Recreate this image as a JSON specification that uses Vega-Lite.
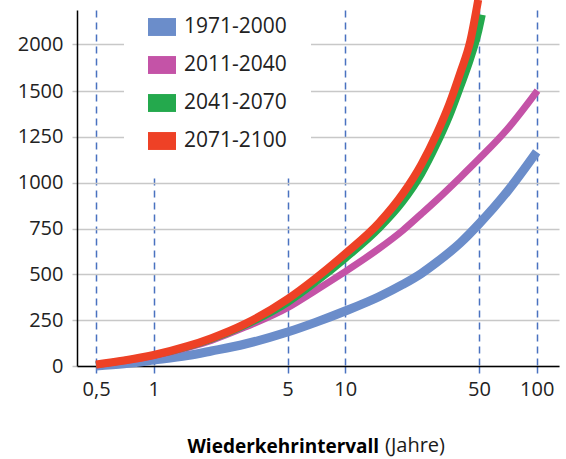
{
  "$schema": "https://vega.github.io/schema/vega-lite/v6.json",
  "width": 482,
  "height": 356,
  "autosize": {"type": "none"},
  "padding": {"left": 77, "top": 10, "right": 7, "bottom": 93},
  "background": "white",
  "title": {"text": "(Jahre)", "orient": "bottom", "anchor": "start", "frame": "group", "dx": 308, "offset": -4, "baseline": "alphabetic", "font": "Open Sans", "fontSize": 20, "fontWeight": "normal", "color": "#1a1a1a"},
  "config": {
    "view": {"stroke": null},
    "font": "Open Sans"
  },
  "data": {"values": [
    {"T": 0.5, "v": 0, "s": "1971-2000"},
    {"T": 0.7, "v": 12, "s": "1971-2000"},
    {"T": 1, "v": 32, "s": "1971-2000"},
    {"T": 1.5, "v": 57, "s": "1971-2000"},
    {"T": 2, "v": 82, "s": "1971-2000"},
    {"T": 3, "v": 120, "s": "1971-2000"},
    {"T": 5, "v": 185, "s": "1971-2000"},
    {"T": 7, "v": 238, "s": "1971-2000"},
    {"T": 10, "v": 300, "s": "1971-2000"},
    {"T": 15, "v": 378, "s": "1971-2000"},
    {"T": 20, "v": 445, "s": "1971-2000"},
    {"T": 25, "v": 505, "s": "1971-2000"},
    {"T": 30, "v": 565, "s": "1971-2000"},
    {"T": 40, "v": 672, "s": "1971-2000"},
    {"T": 50, "v": 775, "s": "1971-2000"},
    {"T": 70, "v": 950, "s": "1971-2000"},
    {"T": 100, "v": 1168, "s": "1971-2000"},
    {"T": 0.5, "v": 5, "s": "2011-2040"},
    {"T": 0.7, "v": 28, "s": "2011-2040"},
    {"T": 1, "v": 56, "s": "2011-2040"},
    {"T": 1.5, "v": 100, "s": "2011-2040"},
    {"T": 2, "v": 140, "s": "2011-2040"},
    {"T": 3, "v": 212, "s": "2011-2040"},
    {"T": 5, "v": 318, "s": "2011-2040"},
    {"T": 7, "v": 412, "s": "2011-2040"},
    {"T": 10, "v": 515, "s": "2011-2040"},
    {"T": 15, "v": 640, "s": "2011-2040"},
    {"T": 20, "v": 740, "s": "2011-2040"},
    {"T": 25, "v": 830, "s": "2011-2040"},
    {"T": 30, "v": 905, "s": "2011-2040"},
    {"T": 40, "v": 1030, "s": "2011-2040"},
    {"T": 50, "v": 1130, "s": "2011-2040"},
    {"T": 70, "v": 1290, "s": "2011-2040"},
    {"T": 101, "v": 1505, "s": "2011-2040"},
    {"T": 0.5, "v": 6, "s": "2041-2070"},
    {"T": 0.7, "v": 30, "s": "2041-2070"},
    {"T": 1, "v": 58, "s": "2041-2070"},
    {"T": 1.5, "v": 104, "s": "2041-2070"},
    {"T": 2, "v": 146, "s": "2041-2070"},
    {"T": 3, "v": 222, "s": "2041-2070"},
    {"T": 5, "v": 345, "s": "2041-2070"},
    {"T": 7, "v": 455, "s": "2041-2070"},
    {"T": 10, "v": 585, "s": "2041-2070"},
    {"T": 15, "v": 748, "s": "2041-2070"},
    {"T": 20, "v": 895, "s": "2041-2070"},
    {"T": 25, "v": 1045, "s": "2041-2070"},
    {"T": 30, "v": 1205, "s": "2041-2070"},
    {"T": 35, "v": 1360, "s": "2041-2070"},
    {"T": 40, "v": 1540, "s": "2041-2070"},
    {"T": 45, "v": 1830, "s": "2041-2070"},
    {"T": 50, "v": 2150, "s": "2041-2070"},
    {"T": 52, "v": 2310, "s": "2041-2070"},
    {"T": 0.5, "v": 8, "s": "2071-2100"},
    {"T": 0.7, "v": 30, "s": "2071-2100"},
    {"T": 1, "v": 60, "s": "2071-2100"},
    {"T": 1.5, "v": 108, "s": "2071-2100"},
    {"T": 2, "v": 152, "s": "2071-2100"},
    {"T": 3, "v": 230, "s": "2071-2100"},
    {"T": 5, "v": 365, "s": "2071-2100"},
    {"T": 7, "v": 478, "s": "2071-2100"},
    {"T": 10, "v": 612, "s": "2071-2100"},
    {"T": 15, "v": 780, "s": "2071-2100"},
    {"T": 20, "v": 940, "s": "2071-2100"},
    {"T": 25, "v": 1100, "s": "2071-2100"},
    {"T": 30, "v": 1265, "s": "2071-2100"},
    {"T": 35, "v": 1430, "s": "2071-2100"},
    {"T": 40, "v": 1700, "s": "2071-2100"},
    {"T": 45, "v": 2030, "s": "2071-2100"},
    {"T": 49.5, "v": 2470, "s": "2071-2100"}
  ]},
  "encoding": {
    "x": {
      "field": "T", "type": "quantitative",
      "scale": {"type": "log", "domain": [0.3975, 130.8], "nice": false},
      "axis": {
        "values": [0.5, 1, 5, 10, 50, 100],
        "labelExpr": "replace(format(datum.value, '~g'), '.', ',')",
        "labelFont": "Open Sans", "labelFontSize": 20, "labelColor": "#222222", "labelPadding": 6,
        "domainColor": "#000000", "domainWidth": 1.5,
        "tickColor": "#4a72c0", "tickDash": [7, 5], "tickSize": 7, "tickWidth": 1.5,
        "grid": true, "gridColor": "#4a72c0", "gridDash": [7, 5], "gridWidth": 1.5,
        "title": "Wiederkehrintervall",
        "titleFont": "Open Sans", "titleFontSize": 19, "titleFontWeight": "bold", "titleColor": "#000000",
        "titleX": 110, "titleY": 86, "titleAlign": "left", "titleAnchor": "start", "titleBaseline": "alphabetic"
      }
    },
    "y": {
      "field": "v", "type": "quantitative",
      "scale": {"type": "linear", "domain": [0, 1500, 2362], "range": [356, 81, 0], "nice": false, "zero": false},
      "axis": {
        "values": [0, 250, 500, 750, 1000, 1250, 1500, 2000],
        "format": "d",
        "labelFont": "Open Sans", "labelFontSize": 20, "labelColor": "#222222", "labelPadding": 9,
        "domainColor": "#000000", "domainWidth": 1.5,
        "tickColor": "#c4c4c4", "tickSize": 5, "tickWidth": 1.5,
        "grid": true, "gridColor": "#c8c8c8", "gridWidth": 1.5,
        "title": null
      }
    },
    "color": {
      "field": "s", "type": "nominal",
      "scale": {"domain": ["1971-2000", "2011-2040", "2041-2070", "2071-2100"], "range": ["#6b8dca", "#c453a7", "#24a94d", "#ee4126"]},
      "legend": {
        "title": null,
        "orient": "none", "legendX": 47, "legendY": -21,
        "fillColor": "white", "padding": 24,
        "symbolType": "M-1,-0.64H1V0.64H-1Z", "symbolSize": 784, "symbolStrokeWidth": 0,
        "labelFont": "Open Sans", "labelFontSize": 21, "labelColor": "#222222", "labelOffset": 8,
        "rowPadding": 14,
        "encode": {"symbols": {"update": {"fill": {"scale": "color", "field": "value"}, "strokeWidth": {"value": 0}, "opacity": {"value": 1}}}}
      }
    }
  },
  "layer": [
    {"transform": [{"filter": "datum.s == '1971-2000'"}], "mark": {"type": "line", "interpolate": "monotone", "strokeCap": "butt", "strokeWidth": 9}},
    {"transform": [{"filter": "datum.s == '2011-2040'"}], "mark": {"type": "line", "interpolate": "monotone", "strokeCap": "butt", "strokeWidth": 7}},
    {"transform": [{"filter": "datum.s == '2041-2070'"}], "mark": {"type": "line", "interpolate": "monotone", "strokeCap": "butt", "strokeWidth": 7}},
    {"transform": [{"filter": "datum.s == '2071-2100'"}], "mark": {"type": "line", "interpolate": "monotone", "strokeCap": "butt", "strokeWidth": 8}}
  ]
}
